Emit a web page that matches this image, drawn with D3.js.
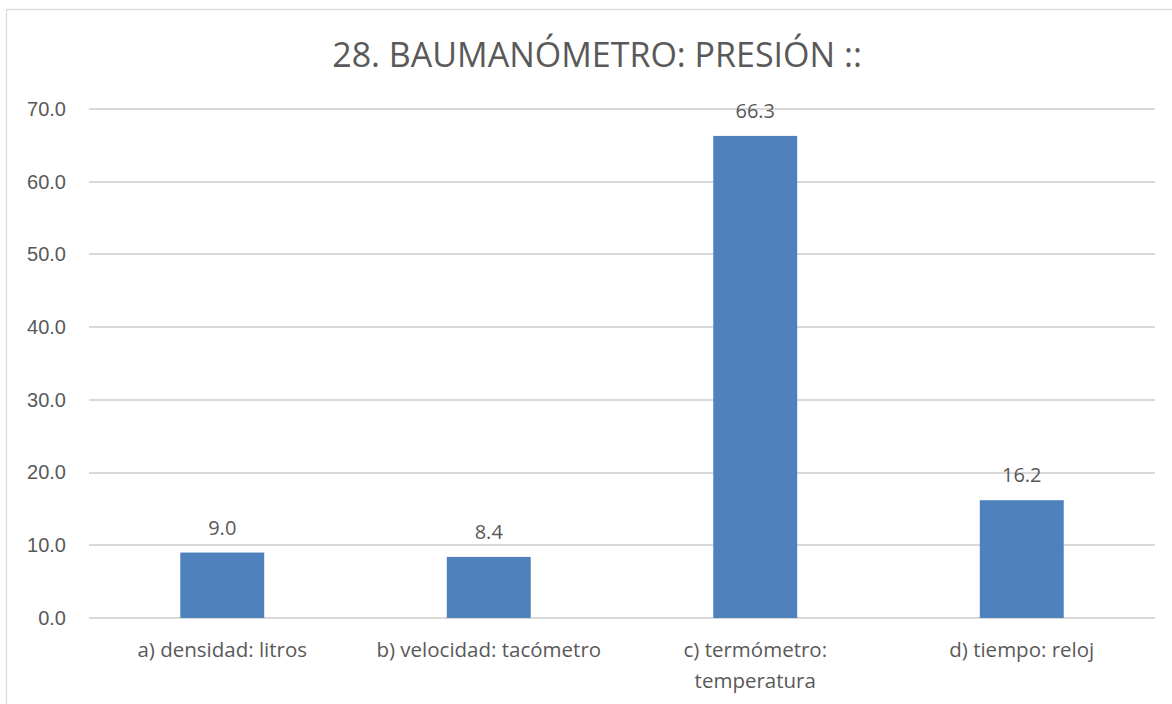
<!DOCTYPE html>
<html lang="es">
<head>
<meta charset="utf-8">
<title>28. BAUMANÓMETRO: PRESIÓN ::</title>
<script src="https://cdn.jsdelivr.net/npm/d3@7"></script>
<style>
  body { margin: 0; background: #fff; font-family: "Open Sans", Calibri, sans-serif; }
  .grid line { stroke: #d9d9d9; stroke-width: 1.5; shape-rendering: crispEdges; }
  .axis text { fill: #595959; font-size: 20px; }
</style>
</head>
<body>
<svg width="1172" height="704"></svg>
<script>
var categories = [["a) densidad: litros"], ["b) velocidad: tacómetro"], ["c) termómetro:", "temperatura"], ["d) tiempo: reloj"]];
var values = [9.0, 8.4, 66.3, 16.2];
var yTicks = [0, 10, 20, 30, 40, 50, 60, 70];
var title = "28. BAUMANÓMETRO: PRESIÓN ::";

var barColor = "#4f81bd";
var textColor = "#595959";

var svg = d3.select("svg"),
    margin = {top: 109, right: 17, bottom: 86, left: 89},
    width = +svg.attr("width") - margin.left - margin.right,
    height = +svg.attr("height") - margin.top - margin.bottom;

// chart border
svg.append("rect")
    .attr("x", 6.5).attr("y", 9.5)
    .attr("width", 1180).attr("height", 720)
    .style("fill", "none")
    .style("stroke", "#d9d9d9")
    .style("stroke-width", 1.2);

svg.append("text")
    .attr("x", 597)
    .attr("y", 67)
    .attr("text-anchor", "middle")
    .style("fill", textColor)
    .style("font-size", "34px")
    .text(title);

var g = svg.append("g").attr("transform", "translate(" + margin.left + "," + margin.top + ")");

var x = d3.scaleBand().domain(d3.range(values.length)).range([0, width]).padding(0);
var y = d3.scaleLinear().domain([0, 70]).range([height, 0]);
var barW = x.bandwidth() * 0.315;

// gridlines
g.append("g").attr("class", "grid")
  .selectAll("line").data(yTicks).enter().append("line")
    .attr("x1", 0).attr("x2", width)
    .attr("y1", function(d) { return Math.round(y(d)); })
    .attr("y2", function(d) { return Math.round(y(d)); });

// y axis labels
var yAxis = g.append("g").attr("class", "axis")
    .call(d3.axisLeft(y).tickValues(yTicks).tickFormat(d3.format(".1f")).tickSize(0).tickPadding(23));
yAxis.select(".domain").remove();

// bars
g.selectAll(".bar").data(values).enter().append("rect")
    .attr("class", "bar")
    .attr("x", function(d, i) { return x(i) + x.bandwidth() / 2 - barW / 2; })
    .attr("y", function(d) { return y(d); })
    .attr("width", barW)
    .attr("height", function(d) { return height - y(d); })
    .style("fill", barColor);

// value labels
g.selectAll(".val").data(values).enter().append("text")
    .attr("class", "val")
    .attr("x", function(d, i) { return x(i) + x.bandwidth() / 2; })
    .attr("y", function(d) { return y(d) - 18; })
    .attr("text-anchor", "middle")
    .style("fill", textColor)
    .style("font-size", "20px")
    .text(function(d) { return d3.format(".1f")(d); });

// category labels
var cat = g.selectAll(".cat").data(categories).enter().append("text")
    .attr("class", "cat")
    .attr("x", function(d, i) { return x(i) + x.bandwidth() / 2; })
    .attr("y", height + 39)
    .attr("text-anchor", "middle")
    .style("fill", textColor)
    .style("font-size", "20.5px");
cat.selectAll("tspan").data(function(d) { return d; }).enter().append("tspan")
    .attr("x", function() { return d3.select(this.parentNode).attr("x"); })
    .attr("dy", function(d, i) { return i ? 31 : 0; })
    .text(function(d) { return d; });
</script>
</body>
</html>
